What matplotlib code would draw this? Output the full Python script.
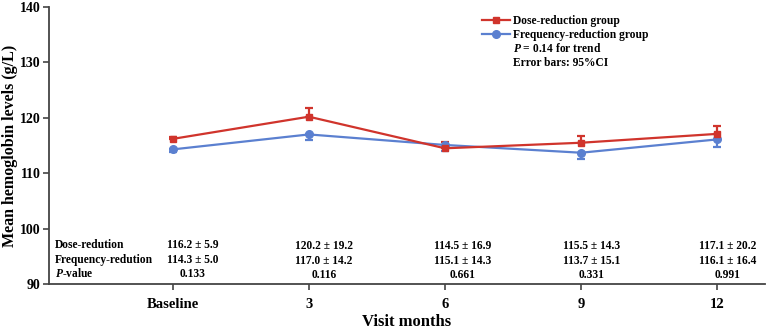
import matplotlib
matplotlib.use("Agg")
import matplotlib.pyplot as plt
from matplotlib.lines import Line2D

plt.rcParams['font.family'] = ['Liberation Serif', 'DejaVu Serif']
plt.rcParams['font.weight'] = 'bold'
plt.rcParams['mathtext.fontset'] = 'custom'
plt.rcParams['mathtext.it'] = 'Liberation Serif:italic:bold'
plt.rcParams['mathtext.rm'] = 'Liberation Serif:bold'

# ---- data ----
visits = ["Baseline", "3", "6", "9", "12"]
dose_mean = [116.2, 120.2, 114.5, 115.5, 117.1]
freq_mean = [114.3, 117.0, 115.1, 113.7, 116.1]
dose_ci_upper = [0.4, 1.5, 1.2, 1.2, 1.4]
freq_ci_lower = [0.4, 1.0, 1.0, 1.1, 1.3]
dose_txt = ["116.2 ± 5.9", "120.2 ± 19.2", "114.5 ± 16.9", "115.5 ± 14.3", "117.1 ± 20.2"]
freq_txt = ["114.3 ± 5.0", "117.0 ± 14.2", "115.1 ± 14.3", "113.7 ± 15.1", "116.1 ± 16.4"]
p_txt = ["0.133", "0.116", "0.661", "0.331", "0.991"]
row_labels = ["Dose-redution", "Frequency-redution", "$\\it{P}$-value"]
yticks = [90, 100, 110, 120, 130, 140]

red = '#d0342c'
blue = '#5b80d0'

fig = plt.figure(figsize=(7.67, 3.33), dpi=100)
ax = fig.add_axes([0.0639, 0.147, 0.933, 0.832])

x = list(range(len(visits)))
ax.errorbar(x, freq_mean, yerr=[freq_ci_lower, [0]*5], color=blue, marker='o',
            markersize=5.5, linewidth=1.6, capsize=3, capthick=1.6, elinewidth=1.6)
ax.errorbar(x, dose_mean, yerr=[[0]*5, dose_ci_upper], color=red, marker='s',
            markersize=5, linewidth=1.6, capsize=3, capthick=1.6, elinewidth=1.6)

ax.set_xlim(-0.91, 4.35)
ax.set_ylim(90, 140)
ax.set_yticks(yticks)
ax.set_xticks(x)
ax.set_xticklabels(visits)
ax.tick_params(axis='both', labelsize=10, direction='out', length=4, width=1.2, color='#444444')
ax.tick_params(axis='x', pad=6, labelsize=10.5)
ax.tick_params(axis='y', pad=2)
for lab in ax.get_xticklabels() + ax.get_yticklabels():
    lab.set_fontweight('bold')
for s in ['top', 'right']:
    ax.spines[s].set_visible(False)
for s in ['left', 'bottom']:
    ax.spines[s].set_color('#444444')
    ax.spines[s].set_linewidth(1.3)

ax.set_ylabel("Mean hemoglobin levels (g/L)", fontsize=11.5, fontweight='bold')
ax.yaxis.set_label_coords(-0.0545, 0.5)
ax.yaxis.label.set_va('center')
ax.set_xlabel("Visit months", fontsize=12, fontweight='bold')
ax.xaxis.set_label_coords(0.5, -0.137)
ax.xaxis.label.set_va('center')

# table inside plot
col_offsets = [0.145, 0.11, 0.13, 0.08, 0.08]
row_y = [96.85, 94.15, 91.65]
for i, lbl in enumerate(row_labels):
    ax.text(-0.868, row_y[i] + 0.25, lbl, ha='left', va='center', fontsize=8.3, fontweight='bold')
for j in x:
    xx = j + col_offsets[j]
    dy = 0.25 if j == 0 else 0.0
    for i, t in enumerate([dose_txt[j], freq_txt[j], p_txt[j]]):
        ax.text(xx, row_y[i] + dy, t, ha='center', va='center',
                fontsize=8.3, fontweight='bold')

handles = [
    Line2D([], [], color=red, marker='s', markersize=5, linewidth=1.6),
    Line2D([], [], color=blue, marker='o', markersize=5.5, linewidth=1.6),
    Line2D([], [], linestyle='none'),
    Line2D([], [], linestyle='none'),
]
labels = ["Dose-reduction group", "Frequency-reduction group",
          "$\\it{P}$ = 0.14 for trend", "Error bars: 95%CI"]
leg = ax.legend(handles, labels, loc='upper left', bbox_to_anchor=(0.602, 0.98),
                frameon=False, fontsize=8.3, handlelength=2.4, handletextpad=0.3,
                labelspacing=0.15, borderpad=0.2, borderaxespad=0.0)
for t in leg.get_texts():
    t.set_fontweight('bold')

fig.savefig("out.png", dpi=100)
